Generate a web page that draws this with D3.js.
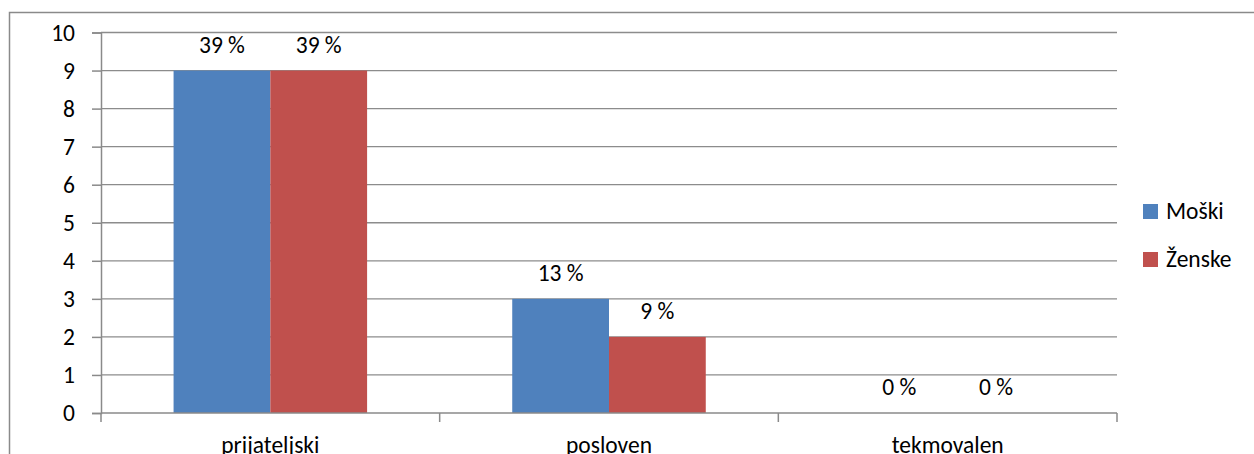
<!DOCTYPE html>
<html>
<head>
<meta charset="utf-8">
<script src="https://cdn.jsdelivr.net/npm/d3@7"></script>
<style>
  html, body { margin: 0; padding: 0; background: #fff; }
  svg { display: block; }
  text { font-family: Carlito, Calibri, Lato, "DejaVu Sans", sans-serif; fill: #000; }
</style>
</head>
<body>
<svg id="chart" width="1254" height="454"></svg>
<script>
// Chart data
const categories = ["prijateljski", "posloven", "tekmovalen"];
const seriesNames = ["Moški", "Ženske"];
const moski = [9, 3, 0];
const zenske = [9, 2, 0];
const moskiLabels = ["39 %", "13 %", "0 %"];
const zenskeLabels = ["39 %", "9 %", "0 %"];
const yTicks = [0, 1, 2, 3, 4, 5, 6, 7, 8, 9, 10];
const colors = ["#4F81BD", "#C0504D"];

const series = [
  { name: seriesNames[0], values: moski, labels: moskiLabels, color: colors[0] },
  { name: seriesNames[1], values: zenske, labels: zenskeLabels, color: colors[1] }
];

const svg = d3.select("#chart");
const plot = { left: 101, right: 1117, top: 32.5, bottom: 413 };
const fontSize = 23.5;

// Outer chart border (only the left and top edges fall inside the frame)
svg.append("path")
  .attr("d", "M9.5,454 V12.5 H1254")
  .attr("fill", "none")
  .attr("stroke", "#8a8a8a")
  .attr("stroke-width", 1.5);

const x = d3.scaleBand()
  .domain(categories)
  .range([plot.left, plot.right])
  .paddingInner(0)
  .paddingOuter(0);

// Two bars per group, with a gap of 1.5 bar widths shared between groups
const x1 = d3.scaleBand()
  .domain(seriesNames)
  .range([0, x.bandwidth()])
  .paddingInner(0)
  .paddingOuter(0.75);

const y = d3.scaleLinear()
  .domain([0, 10])
  .range([plot.bottom, plot.top]);

// Horizontal gridlines
svg.append("g")
  .selectAll("line")
  .data(yTicks.filter(d => d > 0))
  .join("line")
  .attr("x1", plot.left)
  .attr("x2", plot.right)
  .attr("y1", d => y(d))
  .attr("y2", d => y(d))
  .attr("stroke", "#8c8c8c")
  .attr("stroke-width", 1.3);

// Bars
const groups = svg.append("g")
  .selectAll("g")
  .data(categories)
  .join("g")
  .attr("transform", d => `translate(${x(d)},0)`);

series.forEach(s => {
  groups.append("rect")
    .attr("x", x1(s.name))
    .attr("width", x1.bandwidth())
    .attr("y", (d, i) => y(s.values[i]))
    .attr("height", (d, i) => y(0) - y(s.values[i]))
    .attr("fill", s.color);

  groups.append("text")
    .attr("x", x1(s.name) + x1.bandwidth() / 2)
    .attr("y", (d, i) => y(s.values[i]) - 18)
    .attr("text-anchor", "middle")
    .style("font-size", fontSize + "px")
    .text((d, i) => s.labels[i]);
});

// Y axis
const yAxis = svg.append("g")
  .attr("transform", `translate(${plot.left},0)`)
  .call(d3.axisLeft(y).tickValues(yTicks).tickSize(9).tickPadding(17).tickFormat(d3.format("d")));
yAxis.select(".domain").attr("stroke", "#8a8a8a").attr("stroke-width", 1.5);
yAxis.selectAll(".tick line").attr("stroke", "#8a8a8a").attr("stroke-width", 1.5);
yAxis.selectAll(".tick text")
  .style("font-size", fontSize + "px")
  .style("font-family", "Carlito, Calibri, Lato, sans-serif")
  .attr("fill", "#000");

// X axis with boundary ticks between categories
const xAxisG = svg.append("g");
xAxisG.append("line")
  .attr("x1", plot.left).attr("x2", plot.right)
  .attr("y1", plot.bottom).attr("y2", plot.bottom)
  .attr("stroke", "#8a8a8a").attr("stroke-width", 1.5);
const boundaries = categories.map(c => x(c)).concat([x(categories[categories.length - 1]) + x.bandwidth()]);
xAxisG.selectAll("line.tick")
  .data(boundaries)
  .join("line")
  .attr("class", "tick")
  .attr("x1", d => d).attr("x2", d => d)
  .attr("y1", plot.bottom).attr("y2", plot.bottom + 9)
  .attr("stroke", "#8a8a8a").attr("stroke-width", 1.5);
xAxisG.selectAll("text")
  .data(categories)
  .join("text")
  .attr("x", d => x(d) + x.bandwidth() / 2)
  .attr("y", 453)
  .attr("text-anchor", "middle")
  .style("font-size", fontSize + "px")
  .text(d => d);

// Legend
const legend = svg.append("g");
series.forEach((s, i) => {
  const ly = 204 + i * 48;
  legend.append("rect")
    .attr("x", 1143).attr("y", ly)
    .attr("width", 15).attr("height", 15)
    .attr("fill", s.color);
  legend.append("text")
    .attr("x", 1166).attr("y", ly + 15)
    .style("font-size", fontSize + "px")
    .text(s.name);
});
</script>
</body>
</html>
